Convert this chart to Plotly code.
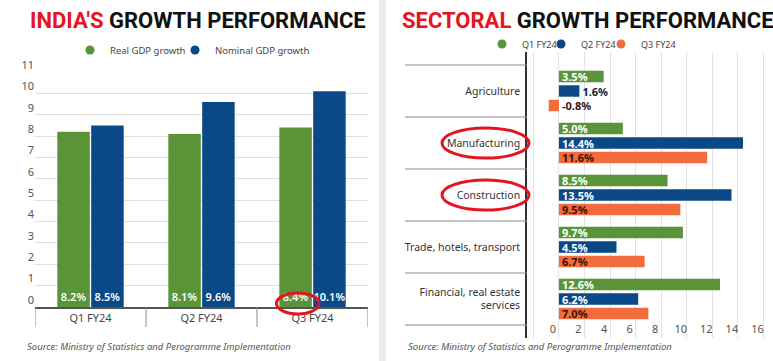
import plotly.graph_objects as go

# ---------------- data ----------------
quarters = ["Q1 FY24", "Q2 FY24", "Q3 FY24"]
real_gdp = [8.2, 8.1, 8.4]
nominal_gdp = [8.5, 9.6, 10.1]

sectors = ["Agriculture", "Manufacturing", "Construction",
           "Trade, hotels, transport", "Financial, real estate<br>services"]
q1_fy24 = [3.5, 5.0, 8.5, 9.7, 12.6]
q2_fy24 = [1.6, 14.4, 13.5, 4.5, 6.2]
q3_fy24 = [-0.8, 11.6, 9.5, 6.7, 7.0]

left_ticks = list(range(0, 12))
right_ticks = list(range(0, 17, 2))

# ---------------- style ----------------
W, H = 773, 361
GREEN = "#5a9438"
BLUE = "#0b4886"
ORANGE = "#f26c3e"
RED = "#e3151f"
FONT = "Noto Sans"


def px(x):
    return x / W


def py(y):
    return 1 - y / H


def pct(v):
    return [f"{x:.1f}%" for x in v]


fig = go.Figure()
annotations = []
legends = {}

# ---- left chart: vertical grouped bars ----
left_series = [("Real GDP growth", real_gdp, GREEN, 70),
               ("Nominal GDP growth", nominal_gdp, BLUE, 175)]
for j, (name, vals, col, lx) in enumerate(left_series):
    lg = "legend" if j == 0 else f"legend{j + 1}"
    fig.add_trace(go.Bar(
        x=quarters, y=vals, name=name, marker=dict(color=col, line=dict(width=0)),
        text=pct(vals), textposition="inside", insidetextanchor="start",
        textangle=0, constraintext="none",
        textfont=dict(family=FONT, size=11, color="white", weight=600),
        xaxis="x", yaxis="y", showlegend=False, hoverinfo="skip"))
    fig.add_trace(go.Scatter(
        x=[None], y=[None], mode="markers", name=name,
        marker=dict(size=9, color=col, symbol="circle"),
        xaxis="x", yaxis="y", legend=lg))
    legends[lg] = dict(x=px(lx), y=py(50), xanchor="left", yanchor="middle",
                       bgcolor="rgba(0,0,0,0)", itemwidth=30,
                       font=dict(family=FONT, size=9.5, color="#444444"))

# ---- right chart: horizontal bars with explicit placement ----
bw = 0.22
pitch = 0.279
series = [("Q1 FY24", q1_fy24, GREEN, "white", 482),
          ("Q2 FY24", q2_fy24, BLUE, "white", 541),
          ("Q3 FY24", q3_fy24, ORANGE, "#3a1206", 601)]
for i, (name, vals, col, tcol, lx) in enumerate(series):
    lg = f"legend{i + 3}"
    center = (i - 1) * pitch
    positions = []
    for v in vals:
        if v < 0:
            positions.append("none")
        elif v < 2.5:
            positions.append("outside")
        else:
            positions.append("inside")
    fig.add_trace(go.Bar(
        y=sectors, x=vals, name=name, orientation="h",
        width=bw, offset=center - bw / 2,
        marker=dict(color=col, line=dict(width=0)),
        text=pct(vals), textposition=positions, insidetextanchor="start",
        textangle=0, constraintext="none",
        insidetextfont=dict(family=FONT, size=11, color=tcol, weight=700),
        outsidetextfont=dict(family=FONT, size=11, color="#0d2440", weight=700),
        xaxis="x2", yaxis="y2", showlegend=False, hoverinfo="skip"))
    fig.add_trace(go.Scatter(
        x=[None], y=[None], mode="markers", name=name,
        marker=dict(size=9, color=col, symbol="circle"),
        xaxis="x2", yaxis="y2", legend=lg))
    legends[lg] = dict(x=px(lx), y=py(44), xanchor="left", yanchor="middle",
                       bgcolor="rgba(0,0,0,0)", itemwidth=30,
                       font=dict(family=FONT, size=9, color="#444444"))
    # negative values: label sits to the right of the zero line
    for s, v in zip(sectors, vals):
        if v < 0:
            annotations.append(dict(
                x=0, y=s, xref="x2", yref="y2", text=f"<b>{v:.1f}%</b>",
                showarrow=False, xanchor="left", xshift=1,
                yshift=-center * 52,
                font=dict(family=FONT, size=11, color="#3a1206")))

shapes = []
# panel separator strip
shapes.append(dict(type="rect", xref="paper", yref="paper",
                   x0=px(379), x1=px(386), y0=0, y1=1,
                   fillcolor="#ececec", line=dict(width=0), layer="below"))
# left chart category dividers below the baseline
for k in range(len(quarters) + 1):
    shapes.append(dict(type="line", xref="x", yref="paper",
                       x0=k - 0.5, x1=k - 0.5, y0=py(307), y1=py(327),
                       line=dict(color="#8a8a8a", width=1)))
# right chart category separators on the label side
for k in range(len(sectors) + 1):
    shapes.append(dict(type="line", xref="paper", yref="y2",
                       x0=px(405), x1=px(527), y0=k - 0.5, y1=k - 0.5,
                       line=dict(color="#8a8a8a", width=1)))
# red highlight ellipses
for s in ["Manufacturing", "Construction"]:
    idx = sectors.index(s)
    shapes.append(dict(type="circle", xref="paper", yref="y2",
                       x0=px(442), x1=px(529), y0=idx - 0.29, y1=idx + 0.29,
                       line=dict(color=RED, width=3)))
shapes.append(dict(type="circle", xref="x", yref="paper",
                   x0=2 - 0.325, x1=2 + 0.06, y0=py(314), y1=py(293),
                   line=dict(color=RED, width=3)))

annotations += [
    dict(x=px(198), y=py(20), xref="paper", yref="paper", showarrow=False,
         xanchor="center", yanchor="middle",
         text=f"<b><span style='color:{RED}'>INDIA'S</span> GROWTH PERFORMANCE</b>",
         font=dict(family="Roboto", size=22, color="#111111")),
    dict(x=px(588), y=py(20), xref="paper", yref="paper", showarrow=False,
         xanchor="center", yanchor="middle",
         text=f"<b><span style='color:{RED}'>SECTORAL</span> GROWTH PERFORMANCE</b>",
         font=dict(family="Roboto", size=22, color="#111111")),
    dict(x=px(25), y=py(346), xref="paper", yref="paper", showarrow=False,
         xanchor="left", yanchor="middle",
         text="<i>Source: Ministry of Statistics and Perogramme Implementation</i>",
         font=dict(family=FONT, size=9.5, color="#555555")),
    dict(x=px(406), y=py(346), xref="paper", yref="paper", showarrow=False,
         xanchor="left", yanchor="middle",
         text="<i>Source: Ministry of Statistics and Perogramme Implementation</i>",
         font=dict(family=FONT, size=9.5, color="#555555")),
]

fig.update_layout(
    width=W, height=H, margin=dict(l=0, r=0, t=0, b=0, autoexpand=False),
    paper_bgcolor="white", plot_bgcolor="rgba(0,0,0,0)",
    barmode="group", bargap=0.39, bargroupgap=0.04,
    uniformtext=dict(minsize=10, mode="show"),
    font=dict(family=FONT, color="#444444"),
    shapes=shapes, annotations=annotations,
    xaxis=dict(domain=[px(35), px(368)], anchor="y", type="category",
               range=[-0.5, 2.5], showgrid=False, showline=True,
               linecolor="#555555", linewidth=1.5, ticks="", automargin=False,
               tickfont=dict(family=FONT, size=11, color="#444444")),
    yaxis=dict(domain=[py(307), py(72)], anchor="x", range=[0, 11],
               tickvals=left_ticks, showgrid=True, gridcolor="#dedede",
               zeroline=False, showline=False, ticks="", automargin=False,
               ticklabelshift=-7,
               tickfont=dict(family=FONT, size=11, color="#555555")),
    xaxis2=dict(domain=[px(527), px(766)], anchor="y2", range=[-2.5, 16.2],
                tickvals=right_ticks, showgrid=True, gridcolor="#e2e2e2",
                zeroline=False, showline=False, ticks="", automargin=False,
                ticklabelposition="inside", ticklabelshift=-6,
                minor=dict(tickvals=[-2], showgrid=True, gridcolor="#e2e2e2"),
                tickfont=dict(family=FONT, size=11, color="#555555")),
    yaxis2=dict(domain=[py(338), py(52)], anchor="x2", type="category",
                range=[len(sectors) - 0.25, -0.75], showgrid=False,
                showline=True, linecolor="#333333", linewidth=1.5, ticks="",
                ticklabelstandoff=3, automargin=False,
                tickfont=dict(family=FONT, size=10.5, color="#333333")),
    **legends,
)

fig.write_html("out.html", config={"displayModeBar": False},
               post_script="document.body.style.margin='0';")
